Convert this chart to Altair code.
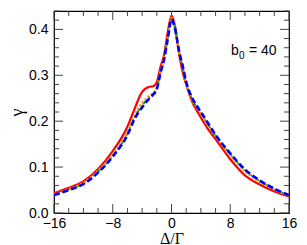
import altair as alt
import pandas as pd

# ---- data ----
x_vals = [-16, -14, -12, -10, -8, -6, -5, -4, -3, -2.5, -2, -1.5, -1, -0.5, 0,
          0.5, 1, 1.5, 2, 3, 3.5, 4, 5, 6, 8, 10, 12, 14, 16]
red = [0.043, 0.055, 0.069, 0.096, 0.135, 0.188, 0.228, 0.264, 0.275, 0.276, 0.285, 0.318, 0.345, 0.395, 0.430,
       0.405, 0.350, 0.308, 0.280, 0.236, 0.222, 0.208, 0.182, 0.161, 0.117, 0.082, 0.062, 0.047, 0.036]
green = [0.040, 0.051, 0.064, 0.090, 0.125, 0.173, 0.209, 0.234, 0.252, 0.259, 0.270, 0.306, 0.336, 0.382, 0.423,
         0.400, 0.354, 0.320, 0.284, 0.242, 0.229, 0.218, 0.192, 0.168, 0.128, 0.093, 0.070, 0.052, 0.038]
orange = [0.041, 0.052, 0.066, 0.092, 0.128, 0.177, 0.214, 0.240, 0.256, 0.262, 0.272, 0.310, 0.338, 0.385, 0.425,
          0.400, 0.353, 0.318, 0.283, 0.240, 0.228, 0.216, 0.190, 0.167, 0.126, 0.091, 0.068, 0.051, 0.038]
blue = [0.039, 0.050, 0.063, 0.088, 0.123, 0.170, 0.206, 0.230, 0.250, 0.258, 0.270, 0.305, 0.335, 0.380, 0.422,
        0.400, 0.355, 0.322, 0.286, 0.245, 0.232, 0.220, 0.195, 0.170, 0.130, 0.095, 0.071, 0.053, 0.039]

x_major = [-16, -8, 0, 8, 16]
x_minor = [v for v in range(-16, 17, 2) if v % 8 != 0]
y_major = [0.0, 0.1, 0.2, 0.3, 0.4]
y_minor = [round(0.02 * i, 2) for i in range(23) if i % 5 != 0]

W, H = 235, 202
MAJ, MIN = 9, 5

xscale = alt.Scale(domain=[-16, 16], nice=False, zero=False)
yscale = alt.Scale(domain=[0, 0.44], nice=False, zero=False)

xaxis = alt.Axis(values=x_major, title="Δ/Γ", titleFont="Liberation Serif", titleFontSize=16,
                 titleFontWeight="normal", titleColor="black", titleY=30, titleBaseline="alphabetic",
                 labelFont="Liberation Sans", labelFontSize=14, labelColor="black", labelFlush=False,
                 labelPadding=3, ticks=False, domain=False, grid=False, format="d")
yaxis = alt.Axis(values=y_major, title="γ", titleFont="Liberation Serif", titleFontSize=18,
                 titleFontWeight="normal", titleColor="black", titleX=-37, titleBaseline="middle",
                 labelFont="Liberation Sans", labelFontSize=14, labelColor="black", labelFlush=False,
                 labelPadding=6, ticks=False, domain=False, grid=False, format=".1f")

series = [("red", red, "#ff0000", 2.2, None),
          ("green", green, "#00a000", 1.8, [6, 2, 2, 2]),
          ("orange", orange, "#ff9900", 2.2, [2, 2]),
          ("blue", blue, "#0000ff", 2.6, [6, 3])]

layers = []
for name, vals, color, sw, dash in series:
    df = pd.DataFrame({"x": x_vals, "y": vals})
    kw = dict(color=color, strokeWidth=sw, interpolate="monotone", clip=True)
    if dash:
        kw["strokeDash"] = dash
    layers.append(alt.Chart(df).mark_line(**kw).encode(
        x=alt.X("x:Q", scale=xscale, axis=xaxis),
        y=alt.Y("y:Q", scale=yscale, axis=yaxis)))

tick_color = "#444444"
def xticks(vals, L):
    d = pd.DataFrame({"x": vals})
    b = alt.Chart(d).mark_rule(color=tick_color, strokeWidth=1).encode(
        x=alt.X("x:Q", scale=xscale, axis=xaxis), y=alt.value(H), y2=alt.value(H - L))
    t = alt.Chart(d).mark_rule(color=tick_color, strokeWidth=1).encode(
        x=alt.X("x:Q", scale=xscale, axis=xaxis), y=alt.value(0), y2=alt.value(L))
    return [b, t]

def yticks(vals, L):
    d = pd.DataFrame({"y": vals})
    l = alt.Chart(d).mark_rule(color=tick_color, strokeWidth=1).encode(
        y=alt.Y("y:Q", scale=yscale, axis=yaxis), x=alt.value(0), x2=alt.value(L))
    r = alt.Chart(d).mark_rule(color=tick_color, strokeWidth=1).encode(
        y=alt.Y("y:Q", scale=yscale, axis=yaxis), x=alt.value(W), x2=alt.value(W - L))
    return [l, r]

tick_layers = xticks(x_major, MAJ) + xticks(x_minor, MIN) + yticks(y_major, MAJ) + yticks(y_minor, MIN)

ann = pd.DataFrame({"t": ["b"], "s": ["0"], "r": ["= 40"]})
txt_b = alt.Chart(ann).mark_text(align="left", baseline="alphabetic", font="Liberation Sans",
                                 fontSize=14, color="black").encode(
    text="t:N", x=alt.value(177), y=alt.value(44))
txt_s = alt.Chart(ann).mark_text(align="left", baseline="alphabetic", font="Liberation Sans",
                                 fontSize=10, color="black").encode(
    text="s:N", x=alt.value(185), y=alt.value(48))
txt_r = alt.Chart(ann).mark_text(align="left", baseline="alphabetic", font="Liberation Sans",
                                 fontSize=14, color="black").encode(
    text="r:N", x=alt.value(195), y=alt.value(44))

chart = alt.layer(*tick_layers, *layers, txt_b, txt_s, txt_r).properties(
    width=W, height=H,
    autosize=alt.AutoSizeParams(type="none"),
    padding={"left": 46, "top": 3, "right": 10, "bottom": 34},
    background="white",
).configure_view(stroke="black", strokeWidth=1.2)

chart.save("out.html", embed_options={"renderer": "svg", "actions": False})
